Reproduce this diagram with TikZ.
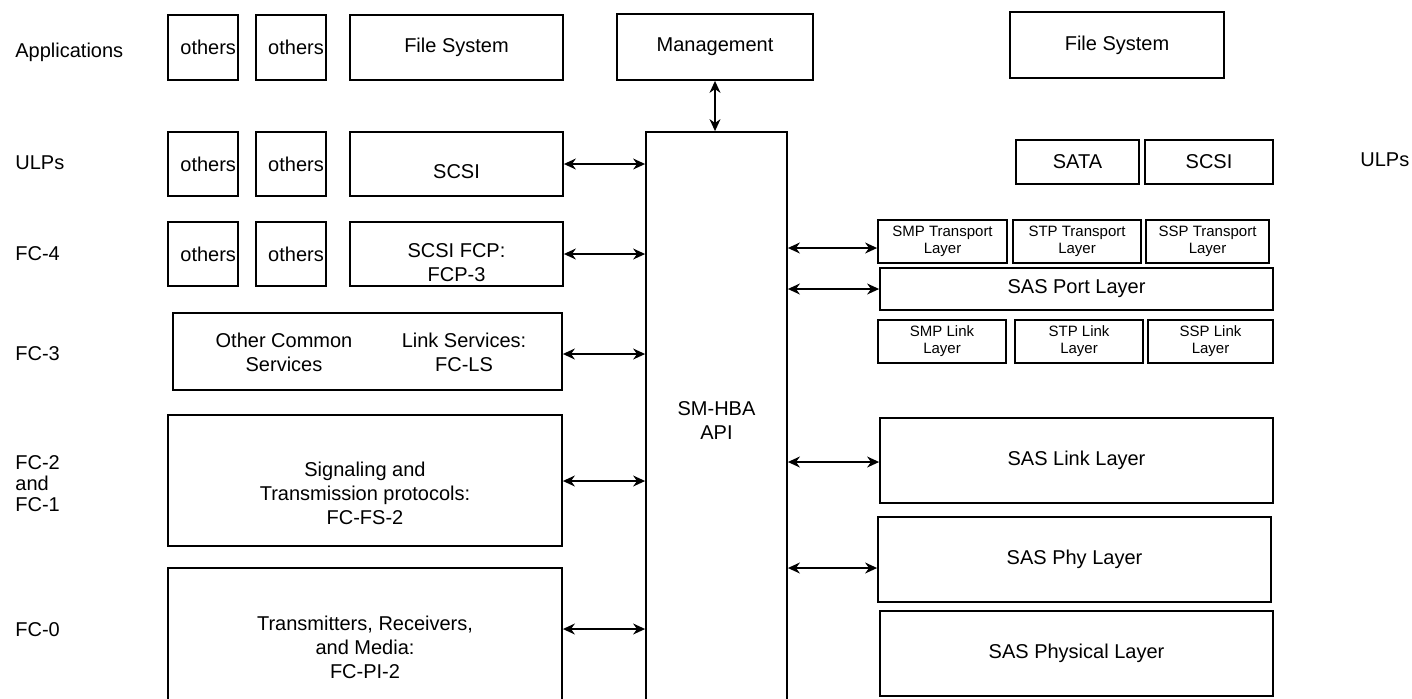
\documentclass[tikz,border=0pt]{standalone}
\usepackage{fontspec}
\setmainfont{Liberation Sans}
\usepackage{tikz}
\usetikzlibrary{arrows.meta,positioning,calc}

\begin{document}
\begin{tikzpicture}[
    x=0.5pt, y=-0.5pt,
    box/.style 2 args={rectangle, draw=black, line width=0.9pt, minimum width=#1*0.5pt, minimum height=#2*0.5pt, inner sep=0pt, align=center, font={\fontsize{10}{12}\selectfont}},
    small/.style 2 args={box={#1}{#2}, font={\fontsize{7.5}{8.5}\selectfont}},
    others/.style={box={70}{#1}, inner xsep=1pt, text width=33pt, align=right},
    txt/.style={inner sep=0pt, align=center, font={\fontsize{10}{12}\selectfont}},
    lvl/.style={anchor=west, inner sep=0pt, align=left, font={\fontsize{10}{10.5}\selectfont}},
    biarrow/.style={{Stealth[length=6pt,width=5.5pt]}-{Stealth[length=6pt,width=5.5pt]}, line width=0.7pt}
]
    \path[use as bounding box, clip] (0,0) rectangle (1412,698);

    % level names
    \node[lvl] (lapp) at (15,52) {Applications};
    \node[lvl] (lulp) at (15,163) {ULPs};
    \node[lvl] (lfc4) at (15,254) {FC-4};
    \node[lvl] (lfc3) at (15,354) {FC-3};
    \node[lvl] (lfc21) at (15,484) {FC-2\\and\\FC-1};
    \node[lvl] (lfc0) at (15,630) {FC-0};
    \node[lvl] (rulp) at (1360,160) {ULPs};

    % FC side
    \node[others=65] (othA1) at (203,47.5) {others};
    \node[others=65, right=8pt of othA1] (othA2) {others};
    \node[box={213}{65}] (fs1) at (456.5,47.5) {File System};

    \node[others=64] (othB1) at (203,164) {others};
    \node[others=64, right=8pt of othB1] (othB2) {others};
    \node[box={213}{64}] (scsi1) at (456.5,164) {};
    \node[txt] (scsi1t) at ([yshift=-4pt]scsi1.center) {SCSI};

    \node[others=64] (othC1) at (203,254) {others};
    \node[others=64, right=8pt of othC1] (othC2) {others};
    \node[box={213}{64}] (fcp) at (456.5,254) {};
    \node[txt] (fcpt) at ([yshift=-4.25pt]fcp.center) {SCSI FCP:\\FCP-3};

    \node[box={389}{77}] (fc3) at (367.5,351.5) {};
    \node[txt] (ocs) at (284,352) {Other Common\\Services};
    \node[txt] (fcls) at (464,352) {Link Services:\\FC-LS};

    \node[box={394}{131}] (fc2) at (365,480.5) {};
    \node[txt] (fc2t) at ([yshift=-6.5pt]fc2.center) {Signaling and\\Transmission protocols:\\FC-FS-2};

    \node[box={394}{158}] (fc0) at (365,647) {Transmitters, Receivers,\\and Media:\\FC-PI-2};

    % API
    \node[box={196}{66}] (mgmt) at (715,47) {Management};
    \node[box={141}{578}] (hba) at (716.5,421) {SM-HBA\\API};

    % SAS side
    \node[box={214}{66}] (fs2) at (1117,45) {File System};
    \node[box={123}{44}] (sata) at (1077.5,162) {SATA};
    \node[box={128}{44}] (scsi2) at (1209,162) {SCSI};

    \node[small={129}{43}] (smpT) at (942.5,241.5) {SMP Transport\\Layer};
    \node[small={128}{43}] (stpT) at (1077,241.5) {STP Transport\\Layer};
    \node[small={123}{43}] (sspT) at (1207.5,241.5) {SSP Transport\\Layer};
    \node[box={393}{42}] (port) at (1076.5,289) {SAS Port Layer};
    \node[small={128}{43}] (smpL) at (942,341.5) {SMP Link\\Layer};
    \node[small={128}{43}] (stpL) at (1079,341.5) {STP Link\\Layer};
    \node[small={125}{43}] (sspL) at (1210.5,341.5) {SSP Link\\Layer};

    \node[box={393}{85}] (link) at (1076.5,460.5) {SAS Link Layer};
    \node[box={393}{85}] (phy) at (1074.5,559.5) {SAS Phy Layer};
    \node[box={393}{85}] (physical) at (1076.5,653.5) {SAS Physical Layer};

    % connectors
    \draw[biarrow] (mgmt.south) -- (mgmt.south |- hba.north);
    \draw[biarrow] (scsi1.east) -- (scsi1.east -| hba.west);
    \draw[biarrow] (fcp.east) -- (fcp.east -| hba.west);
    \draw[biarrow] ([yshift=-1.25pt]fc3.east) -- ([yshift=-1.25pt]fc3.east -| hba.west);
    \draw[biarrow] ([yshift=-0.25pt]fc2.east) -- ([yshift=-0.25pt]fc2.east -| hba.west);
    \draw[biarrow] ([yshift=9pt]fc0.east) -- ([yshift=9pt]fc0.east -| hba.west);

    \draw[biarrow] ([yshift=-3.25pt]smpT.west -| hba.east) -- ([yshift=-3.25pt]smpT.west);
    \draw[biarrow] (port.west -| hba.east) -- (port.west);
    \draw[biarrow] ([yshift=-0.75pt]link.west -| hba.east) -- ([yshift=-0.75pt]link.west);
    \draw[biarrow] ([yshift=-4.25pt]phy.west -| hba.east) -- ([yshift=-4.25pt]phy.west);
\end{tikzpicture}
\end{document}
